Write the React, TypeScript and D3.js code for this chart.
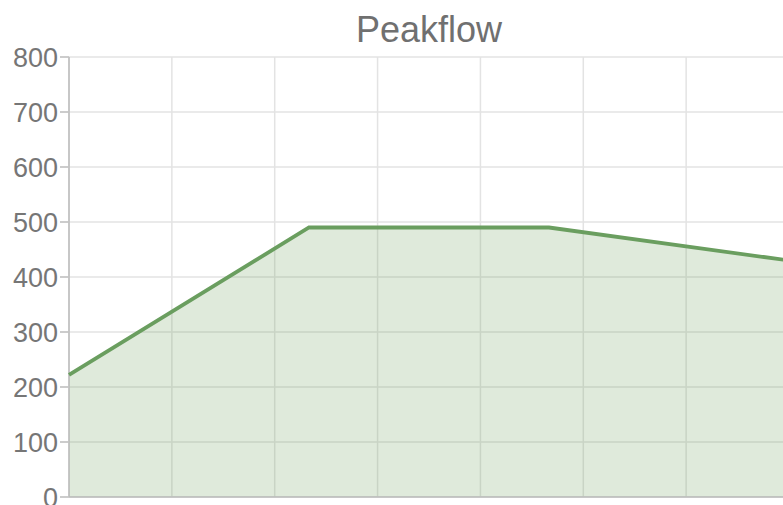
import React from "react";
import * as d3 from "d3";

const title = "Peakflow";
const hours = [0, 56, 112, 168];
const peakflow = [222, 490, 490, 430];
const yTicks = [0, 100, 200, 300, 400, 500, 600, 700, 800];
const xGridHours = [0, 24, 48, 72, 96, 120, 144, 168];

export default function App() {
  const W = 783, H = 505;
  const left = 69, right = 789, top = 57, bottom = 497;
  const x = d3.scaleLinear().domain([0, 168]).range([left, right]);
  const y = d3.scaleLinear().domain([0, 800]).range([bottom, top]);
  const pts = hours.map((h, i) => [h, peakflow[i]] as [number, number]);
  const line = d3.line<[number, number]>().x(d => x(d[0])).y(d => y(d[1]));
  const area = d3.area<[number, number]>().x(d => x(d[0])).y0(y(0)).y1(d => y(d[1]));
  const font = "'Liberation Sans', Arial, Helvetica, sans-serif";
  return (
    <svg width={W} height={H} style={{ position: "absolute", left: 0, top: 0, background: "#fff" }}>
      <text x={429} y={42} textAnchor="middle" fontFamily={font} fontSize={36} fill="#707070">{title}</text>
      {yTicks.map(t => (
        <g key={t}>
          <line x1={left} x2={right} y1={y(t)} y2={y(t)} stroke="#e3e3e3" strokeWidth={1.5} />
          <line x1={left - 9} x2={left} y1={y(t)} y2={y(t)} stroke="#bbb" strokeWidth={1.5} />
          <text x={left - 11} y={y(t)} dy="0.36em" textAnchor="end" fontFamily={font} fontSize={27} fill="#767676">{t}</text>
        </g>
      ))}
      {xGridHours.map(h => (
        <line key={h} x1={x(h)} x2={x(h)} y1={top} y2={bottom} stroke="#e3e3e3" strokeWidth={1.5} />
      ))}
      <path d={area(pts) || ""} fill="rgba(110,160,90,0.22)" />
      <line x1={left} x2={left} y1={top} y2={bottom} stroke="#bbb" strokeWidth={1.5} />
      <line x1={left} x2={right} y1={bottom} y2={bottom} stroke="#bbb" strokeWidth={1.5} />
      <path d={line(pts) || ""} fill="none" stroke="#6a9e5f" strokeWidth={3.8} />
    </svg>
  );
}
